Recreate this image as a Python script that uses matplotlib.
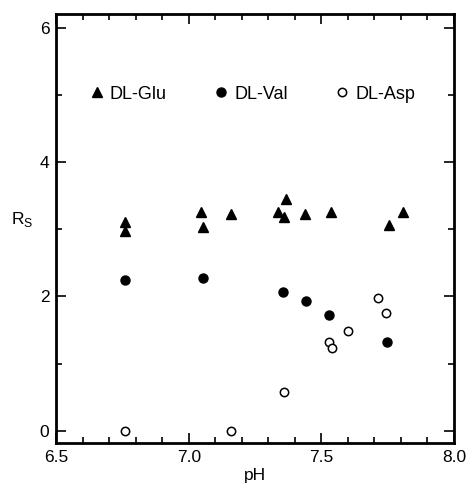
import matplotlib
matplotlib.use('Agg')
import matplotlib.pyplot as plt
from matplotlib.ticker import MultipleLocator

plt.rcParams['font.family'] = ['Liberation Sans', 'DejaVu Sans']

# DL-Glu (filled triangles)
glu_ph = [6.758, 6.758, 7.047, 7.055, 7.16, 7.338, 7.36, 7.368, 7.44, 7.536, 7.757, 7.807]
glu_rs = [3.10, 2.98, 3.25, 3.04, 3.23, 3.25, 3.18, 3.45, 3.23, 3.26, 3.06, 3.25]

# DL-Val (filled circles)
val_ph = [6.758, 7.053, 7.357, 7.441, 7.529, 7.746]
val_rs = [2.25, 2.28, 2.07, 1.93, 1.73, 1.32]

# DL-Asp (open circles)
asp_ph = [6.758, 7.16, 7.36, 7.529, 7.539, 7.60, 7.714, 7.744]
asp_rs = [0.0, 0.0, 0.58, 1.32, 1.24, 1.49, 1.97, 1.75]

fig = plt.figure(figsize=(4.66, 4.86), dpi=100)
ax = fig.add_axes([0.121, 0.0885, 0.853, 0.8825])

ax.plot(glu_ph, glu_rs, '^', color='black', ms=6.5, ls='none', label='DL-Glu')
ax.plot(val_ph, val_rs, 'o', color='black', ms=6.5, ls='none', label='DL-Val')
ax.plot(asp_ph, asp_rs, 'o', mfc='white', mec='black', mew=1.1, ms=6, ls='none', label='DL-Asp')

ax.set_xlim(6.5, 8.0)
ax.set_ylim(-0.18, 6.2)
ax.xaxis.set_major_locator(MultipleLocator(0.5))
ax.xaxis.set_minor_locator(MultipleLocator(0.1))
ax.yaxis.set_major_locator(MultipleLocator(2))
ax.yaxis.set_minor_locator(MultipleLocator(1))
ax.xaxis.set_major_formatter(lambda v, p: f'{v:.1f}')
ax.tick_params(which='both', direction='in', top=True, right=True, labelsize=12.5, width=1.2)
ax.tick_params(which='major', length=7, pad=5)
ax.tick_params(which='minor', length=4)
for s in ax.spines.values():
    s.set_linewidth(2)

ax.set_xlabel('pH', fontsize=12.5, labelpad=2)
ax.set_ylabel('R$_\\mathregular{S}$', fontsize=12.5, rotation=0)
ax.yaxis.set_label_coords(-0.085, 0.5)

# legend laid out as one row across the upper part of the plot
ax.legend(loc='center left', bbox_to_anchor=(0.065, 0.813), ncol=3, frameon=False,
          fontsize=13, handletextpad=0.32, columnspacing=2.62, handlelength=0.8,
          borderaxespad=0)

fig.savefig('out.png', dpi=100)
